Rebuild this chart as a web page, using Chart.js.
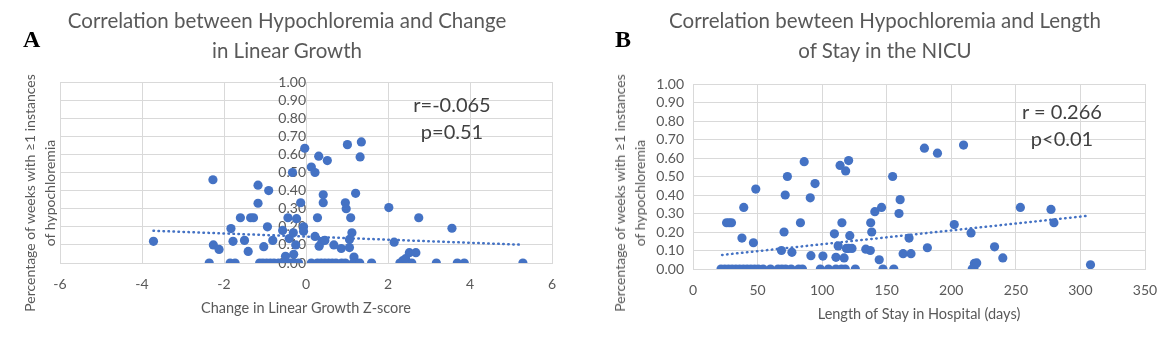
<!DOCTYPE html>
<html>
<head>
<meta charset="utf-8">
<script src="https://cdn.jsdelivr.net/npm/chart.js@4"></script>
<style>
  body { margin: 0; background: #fff; }
  #page { position: relative; width: 1175px; height: 343px; overflow: hidden; font-family: Lato, sans-serif; }
  canvas { position: absolute; top: 0; }
  .txt { position: absolute; white-space: nowrap; color: #595959; }
  .ttl { font-size: 20.5px; text-align: center; line-height: 30px; transform: translateX(-50%); }
  .panel { font-family: "Liberation Serif", serif; font-weight: bold; font-size: 24px; color: #000; }
  .ytl { font-size: 14px; line-height: 20px; text-align: center; transform: translate(-50%, -50%) rotate(-90deg); }
  .stat { font-size: 20px; line-height: 27px; text-align: center; color: #404040; transform: translateX(-50%); }
</style>
</head>
<body>
<div id="page">
  <canvas id="chartA" width="580" height="343" style="left:0"></canvas>
  <canvas id="chartB" width="590" height="343" style="left:585px"></canvas>

  <div class="txt panel" style="left:23px; top:26px">A</div>
  <div class="txt panel" style="left:615px; top:26px">B</div>

  <div class="txt ttl" style="left:287px; top:5px">Correlation between Hypochloremia and Change<br>in Linear Growth</div>
  <div class="txt ttl" style="left:885px; top:5px">Correlation bewteen Hypochloremia and Length<br>of Stay in the NICU</div>

  <div class="txt ytl" style="left:40px; top:193px">Percentage of weeks with ≥1 instances<br>of hypochloremia</div>
  <div class="txt ytl" style="left:630px; top:193px">Percentage of weeks with ≥1 instances<br>of hypochloremia</div>

  <div class="txt stat" style="left:452px; top:91px">r=-0.065<br>p=0.51</div>
  <div class="txt stat" style="left:1062px; top:98px">r = 0.266<br>p&lt;0.01</div>
</div>

<script>
// Panel A: change in linear growth z-score vs share of weeks with hypochloremia
const growthZ = [
  -3.72, -2.27, -2.26, -2.36, -2.12, -1.85, -1.73, -1.83, -1.78, -1.60,
  -1.50, -1.41, -1.35, -1.28, -1.17, -1.17, -1.13, -1.05, -0.96, -0.87,
  -0.78, -0.67, -0.58, -0.49, -0.37, -0.28, -0.18, -1.03, -0.94, -0.91,
  -0.81, -0.57, -0.50, -0.44, -0.41, -0.33, -0.31, -0.30, -0.25, -0.23,
  -0.13, -0.06, -0.06, -0.03, 0.13, 0.13, 0.22, 0.22, 0.28, 0.31,
  0.32, 0.28, 0.37, 0.46, 0.55, 0.64, 0.73, 0.87, 0.96, 0.39,
  0.42, 0.42, 0.46, 0.52, 0.68, 0.86, 0.96, 0.98, 1.01, 1.06,
  1.06, 1.09, 1.12, 1.17, 1.15, 1.24, 1.31, 1.21, 1.32, 1.35,
  1.60, 2.02, 2.15, 2.29, 2.36, 2.43, 2.52, 2.58, 2.68, 2.75,
  3.18, 3.56, 3.69, 3.86, 5.29
];
const hypoPctA = [
  0.12, 0.46, 0.10, 0.00, 0.075, 0.00, 0.00, 0.19, 0.12, 0.25,
  0.125, 0.064, 0.25, 0.25, 0.43, 0.33, 0.00, 0.00, 0.00, 0.00,
  0.00, 0.00, 0.00, 0.00, 0.00, 0.00, 0.00, 0.09, 0.20, 0.40,
  0.125, 0.18, 0.037, 0.25, 0.135, 0.50, 0.167, 0.048, 0.10, 0.245,
  0.333, 0.20, 0.175, 0.634, 0.53, 0.00, 0.50, 0.147, 0.25, 0.59,
  0.093, 0.00, 0.00, 0.00, 0.00, 0.00, 0.00, 0.00, 0.00, 0.12,
  0.377, 0.333, 0.125, 0.566, 0.10, 0.08, 0.333, 0.30, 0.654, 0.085,
  0.13, 0.25, 0.167, 0.033, 0.00, 0.00, 0.00, 0.385, 0.586, 0.669,
  0.00, 0.306, 0.115, 0.00, 0.013, 0.024, 0.057, 0.00, 0.057, 0.25,
  0.00, 0.192, 0.00, 0.00, 0.00
];
const trendAx = [-3.72, 5.25];
const trendAy = [0.178, 0.101];

// Panel B: length of stay (days) vs share of weeks with hypochloremia
const stayDays = [
  21.7, 24.6, 27.5, 30.3, 33.2, 36.1, 39.0, 41.9, 44.8, 47.7,
  50.6, 54.3, 60.0, 65.9, 68.8, 71.7, 76.0, 81.8, 84.7, 26.0,
  28.0, 29.8, 37.9, 39.3, 46.8, 48.6, 68.5, 70.5, 71.4, 73.1,
  76.6, 83.2, 86.1, 90.8, 91.3, 94.5, 98.6, 100.6, 104.9, 110.7,
  115.0, 117.9, 109.5, 110.7, 112.4, 113.9, 115.3, 117.0, 118.2, 118.8,
  120.5, 123.1, 120.5, 121.4, 125.7, 133.8, 137.3, 137.6, 138.4, 140.8,
  144.2, 146.0, 147.1, 154.6, 155.5, 159.5, 160.4, 162.7, 167.3, 168.8,
  179.2, 181.5, 189.3, 202.3, 209.5, 215.3, 216.2, 217.6, 217.9, 219.7,
  233.5, 239.9, 253.5, 277.2, 279.5, 307.8
];
const hypoPctB = [
  0.00, 0.00, 0.00, 0.00, 0.00, 0.00, 0.00, 0.00, 0.00, 0.00,
  0.00, 0.00, 0.00, 0.00, 0.00, 0.00, 0.00, 0.00, 0.00, 0.25,
  0.25, 0.25, 0.167, 0.333, 0.142, 0.432, 0.10, 0.20, 0.40, 0.50,
  0.09, 0.25, 0.58, 0.385, 0.072, 0.462, 0.00, 0.07, 0.00, 0.00,
  0.00, 0.00, 0.19, 0.063, 0.125, 0.56, 0.25, 0.06, 0.53, 0.111,
  0.111, 0.111, 0.586, 0.18, 0.00, 0.107, 0.10, 0.25, 0.20, 0.31,
  0.05, 0.333, 0.00, 0.50, 0.00, 0.30, 0.375, 0.083, 0.167, 0.083,
  0.653, 0.115, 0.626, 0.24, 0.67, 0.195, 0.00, 0.01, 0.03, 0.033,
  0.12, 0.06, 0.333, 0.322, 0.25, 0.023
];
const trendBx = [22.5, 306.4];
const trendBy = [0.076, 0.288];

const blue = '#4472C4';
const gridGrey = '#D9D9D9';
const tickGrey = '#595959';

function pairs(xs, ys) {
  return xs.map((x, i) => ({ x: x, y: ys[i] }));
}

function datasets(xs, ys, tx, ty) {
  return [
    {
      data: pairs(xs, ys),
      backgroundColor: blue,
      borderColor: blue,
      pointRadius: 4.6,
      pointBorderWidth: 0
    },
    {
      data: pairs(tx, ty),
      showLine: true,
      pointRadius: 0,
      borderColor: blue,
      borderWidth: 2.5,
      borderDash: [0.5, 4.5],
      borderCapStyle: 'round'
    }
  ];
}

const tickFont = { family: 'Lato', size: 14 };
const titleFont = { family: 'Lato', size: 14.5 };

function xScale(min, max, step, title, axisHeight, titleBottom) {
  return {
    type: 'linear',
    position: 'bottom',
    min: min, max: max,
    ticks: { stepSize: step, color: tickGrey, font: tickFont, padding: 13, autoSkip: false },
    grid: { color: gridGrey, lineWidth: 1, drawTicks: false },
    border: { color: gridGrey },
    title: { display: true, text: title, color: tickGrey, font: titleFont, padding: { top: 0, bottom: titleBottom } },
    afterFit: s => { s.height = axisHeight; }
  };
}

function yTicks() {
  return {
    stepSize: 0.1,
    autoSkip: false,
    color: tickGrey,
    font: tickFont,
    callback: v => v.toFixed(2)
  };
}

const common = {
  responsive: false,
  animation: false,
  plugins: { legend: { display: false }, tooltip: { enabled: false } }
};

new Chart(document.getElementById('chartA'), {
  type: 'scatter',
  data: { datasets: datasets(growthZ, hypoPctA, trendAx, trendAy) },
  options: Object.assign({}, common, {
    layout: { padding: { left: 60, right: 28, top: 82, bottom: 22 } },
    scales: {
      x: xScale(-6, 6, 2, 'Change in Linear Growth Z-score', 58, 4),
      y: {
        type: 'linear',
        position: { x: 0 },
        min: 0, max: 1,
        ticks: Object.assign(yTicks(), { padding: 4 }),
        grid: { color: gridGrey, lineWidth: 1, drawTicks: false },
        border: { color: gridGrey }
      }
    }
  })
});

new Chart(document.getElementById('chartB'), {
  type: 'scatter',
  data: { datasets: datasets(stayDays, hypoPctB, trendBx, trendBy) },
  options: Object.assign({}, common, {
    layout: { padding: { left: 58, right: 30, top: 84, bottom: 16 } },
    scales: {
      x: xScale(0, 350, 50, 'Length of Stay in Hospital (days)', 58, 4),
      y: {
        type: 'linear',
        position: 'left',
        min: 0, max: 1,
        ticks: Object.assign(yTicks(), { padding: 9 }),
        grid: { color: gridGrey, lineWidth: 1, drawTicks: false },
        border: { color: gridGrey },
        afterFit: s => { s.width = 50; }
      }
    }
  })
});
</script>
</body>
</html>
